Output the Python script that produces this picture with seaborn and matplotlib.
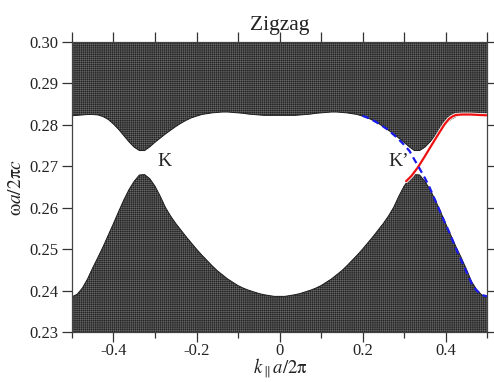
import matplotlib
matplotlib.use("Agg")
import matplotlib.pyplot as plt
import seaborn as sns
import pandas as pd

# Wave vector samples (k_par a / 2pi), step 0.0125
k_left = [-0.5000, -0.4875, -0.4750, -0.4625, -0.4500, -0.4375, -0.4250, -0.4125, -0.4000, -0.3875,
          -0.3750, -0.3625, -0.3500, -0.3375, -0.3250, -0.3125, -0.3000, -0.2875, -0.2750, -0.2625,
          -0.2500, -0.2375, -0.2250, -0.2125, -0.2000, -0.1875, -0.1750, -0.1625, -0.1500, -0.1375,
          -0.1250, -0.1125, -0.1000, -0.0875, -0.0750, -0.0625, -0.0500, -0.0375, -0.0250, -0.0125,
          0.0000]
k_right = [0.0125, 0.0250, 0.0375, 0.0500, 0.0625, 0.0750, 0.0875, 0.1000, 0.1125, 0.1250,
           0.1375, 0.1500, 0.1625, 0.1750, 0.1875, 0.2000, 0.2125, 0.2250, 0.2375, 0.2500,
           0.2625, 0.2750, 0.2875, 0.3000, 0.3125, 0.3250, 0.3375, 0.3500, 0.3625, 0.3750,
           0.3875, 0.4000, 0.4125, 0.4250, 0.4375, 0.4500, 0.4625, 0.4750, 0.4875, 0.5000]

# Top edge of the lower bulk band
lower_left = [0.2385, 0.2391, 0.2406, 0.2428, 0.2455, 0.2480, 0.2506, 0.2534, 0.2562, 0.2591,
              0.2619, 0.2644, 0.2664, 0.2679, 0.2680, 0.2670, 0.2652, 0.2628, 0.2601, 0.2580,
              0.2562, 0.2546, 0.2530, 0.2515, 0.2500, 0.2486, 0.2473, 0.2460, 0.2448, 0.2438,
              0.2428, 0.2420, 0.2412, 0.2406, 0.2401, 0.2397, 0.2393, 0.2390, 0.2388, 0.2386,
              0.2386]
lower_right = [0.2386, 0.2388, 0.2390, 0.2393, 0.2397, 0.2401, 0.2406, 0.2412, 0.2420, 0.2428,
               0.2438, 0.2448, 0.2460, 0.2473, 0.2486, 0.2500, 0.2515, 0.2530, 0.2546, 0.2562,
               0.2580, 0.2601, 0.2628, 0.2652, 0.2670, 0.2680, 0.2679, 0.2664, 0.2644, 0.2619,
               0.2591, 0.2562, 0.2534, 0.2506, 0.2480, 0.2452, 0.2422, 0.2402, 0.2389, 0.2385]

# Bottom edge of the upper bulk band
upper_left = [0.2822, 0.2823, 0.2824, 0.2825, 0.2825, 0.2824, 0.2820, 0.2813, 0.2802, 0.2789,
              0.2774, 0.2759, 0.2746, 0.2738, 0.2738, 0.2747, 0.2758, 0.2768, 0.2778, 0.2787,
              0.2796, 0.2804, 0.2811, 0.2817, 0.2821, 0.2825, 0.2827, 0.2829, 0.2830, 0.2831,
              0.2831, 0.2830, 0.2829, 0.2828, 0.2826, 0.2825, 0.2824, 0.2823, 0.2823, 0.2823,
              0.2823]
upper_right = [0.2823, 0.2823, 0.2823, 0.2824, 0.2825, 0.2826, 0.2828, 0.2829, 0.2830, 0.2831,
               0.2831, 0.2830, 0.2829, 0.2827, 0.2825, 0.2821, 0.2817, 0.2811, 0.2804, 0.2796,
               0.2787, 0.2778, 0.2768, 0.2758, 0.2747, 0.2738, 0.2738, 0.2746, 0.2759, 0.2774,
               0.2789, 0.2802, 0.2813, 0.2820, 0.2824, 0.2825, 0.2825, 0.2824, 0.2823, 0.2822]

# Edge state 1 (red, solid)
red_k = [0.305, 0.318, 0.333, 0.350, 0.365, 0.386, 0.398, 0.408, 0.416, 0.425, 0.440, 0.460, 0.480, 0.500]
red_w = [0.2664, 0.2677, 0.2697, 0.2724, 0.2749, 0.2783, 0.2802, 0.2814, 0.2820, 0.2824, 0.2825, 0.2825,
         0.2824, 0.2823]

# Edge state 2 (blue, dashed)
blue_k = [0.200, 0.220, 0.241, 0.260, 0.281, 0.297, 0.313, 0.325, 0.337, 0.350, 0.361, 0.375, 0.394, 0.410,
          0.430, 0.450, 0.466, 0.485, 0.500]
blue_w = [0.2822, 0.2814, 0.2802, 0.2789, 0.2771, 0.2755, 0.2737, 0.2716, 0.2695, 0.2672, 0.2650, 0.2618,
          0.2574, 0.2538, 0.2490, 0.2446, 0.2410, 0.2390, 0.2386]

xticks = [-0.4, -0.2, 0.0, 0.2, 0.4]
xtick_labels = ["-0.4", "-0.2", "0", "0.2", "0.4"]
xminor = [-0.5, -0.3, -0.1, 0.1, 0.3, 0.5]
yticks = [0.23, 0.24, 0.25, 0.26, 0.27, 0.28, 0.29, 0.30]
ytick_labels = ["0.23", "0.24", "0.25", "0.26", "0.27", "0.28", "0.29", "0.30"]

k = k_left + k_right
lower_band_top = lower_left + lower_right
upper_band_bottom = upper_left + upper_right

sns.set_theme(style="ticks")
plt.rcParams["font.family"] = ["Liberation Serif", "DejaVu Serif"]
plt.rcParams["mathtext.fontset"] = "stix"
plt.rcParams["hatch.linewidth"] = 0.3
plt.rcParams["hatch.color"] = "#747474"

fig = plt.figure(figsize=(4.94, 3.82), dpi=100)
ax = fig.add_axes([0.1457, 0.1309, 0.8403, 0.7591])

band_face = "#242424"
ax.fill_between(k, 0.23, lower_band_top, facecolor=band_face, edgecolor="#747474",
                hatch="++++++++", linewidth=0, zorder=1)
ax.fill_between(k, upper_band_bottom, 0.30, facecolor=band_face, edgecolor="#747474",
                hatch="++++++++", linewidth=0, zorder=1)
ax.plot(k, lower_band_top, color="#1e1e1e", lw=0.7, zorder=2)
ax.plot(k, upper_band_bottom, color="#1e1e1e", lw=0.7, zorder=2)

red_df = pd.DataFrame({"k": red_k, "w": red_w})
blue_df = pd.DataFrame({"k": blue_k, "w": blue_w})
sns.lineplot(data=red_df, x="k", y="w", color="white", lw=2.8, sort=False, ax=ax, zorder=3)
sns.lineplot(data=red_df, x="k", y="w", color="#ee1111", lw=1.6, sort=False, ax=ax, zorder=4)
sns.lineplot(data=blue_df, x="k", y="w", color="#1a1aee", lw=1.6, sort=False, ax=ax, zorder=4,
             linestyle=(0, (3, 2)))

ax.text(-0.278, 0.2712, "K", fontsize=14, ha="center", va="center", zorder=5)
ax.text(0.286, 0.2712, "K’", fontsize=14, ha="center", va="center", zorder=5)

ax.set_xlim(-0.5, 0.5)
ax.set_ylim(0.23, 0.30)
ax.set_xticks(xticks)
ax.set_xticklabels(xtick_labels)
ax.set_xticks(xminor, minor=True)
ax.set_yticks(yticks)
ax.set_yticklabels(ytick_labels)

ax.tick_params(axis="both", which="major", direction="out", length=7, width=0.9,
               labelsize=12, colors="#333333", labelcolor="#222222", pad=3)
ax.tick_params(axis="x", which="major", pad=1)
ax.tick_params(axis="x", which="minor", direction="out", length=4, width=0.9, colors="#333333")
ax.tick_params(axis="y", which="both", right=True)
ax.tick_params(axis="x", which="both", top=False)

for side in ["left", "right", "top", "bottom"]:
    ax.spines[side].set_visible(True)
    ax.spines[side].set_color("#444444")
    ax.spines[side].set_linewidth(0.9)

# top ticks: major and minor positions, same length
sec = ax.secondary_xaxis("top")
sec.set_xticks(xticks + xminor)
sec.set_xticklabels([])
sec.tick_params(direction="out", length=7, width=0.9, colors="#333333")
sec.spines["top"].set_visible(False)

ax.set_title("Zigzag", fontsize=15.5, pad=9, color="#222222")
ax.set_xlabel("")
ax.set_ylabel(r"$\mathrm{\omega}a/2\mathrm{\pi}c$", fontsize=14, labelpad=3, color="#222222")
fig.text(0.567, 0.004, r"$k_{\parallel}a/2\mathrm{\pi}$", fontsize=13.5, ha="center", va="bottom",
         color="#222222")

fig.savefig("out.png", dpi=100)
